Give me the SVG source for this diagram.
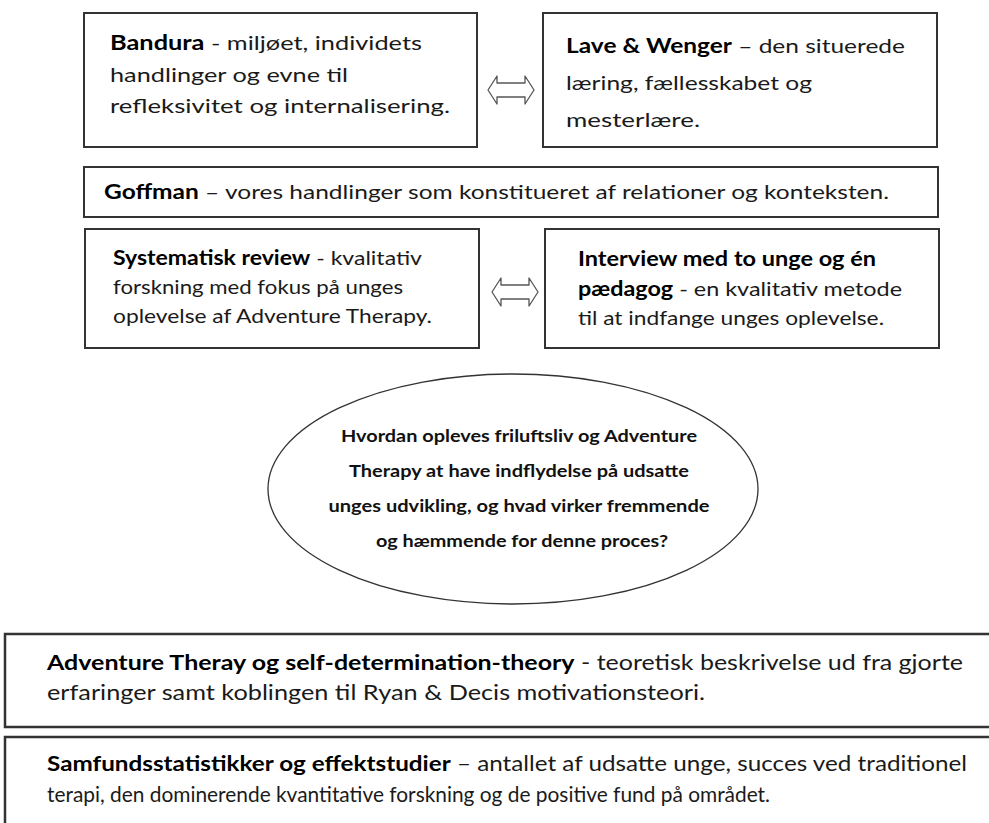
<svg xmlns="http://www.w3.org/2000/svg" width="989" height="823" viewBox="0 0 989 823">
<style>
.box{fill:#fff;stroke:#333;stroke-width:2}
.bbox{fill:#fff;stroke:#333;stroke-width:2.5}
.ell{fill:#fff;stroke:#333;stroke-width:1.3}
.t{font-family:Lato,"Liberation Sans",sans-serif;font-size:20px;fill:#1a1a1a}
.bt{font-family:Lato,"Liberation Sans",sans-serif;font-size:21px;fill:#1a1a1a}
.et{font-family:Lato,"Liberation Sans",sans-serif;font-size:17px;font-weight:bold;fill:#111}
.b{font-weight:bold;fill:#000}
.arr{fill:#fff;stroke:#555;stroke-width:1.3;stroke-linejoin:round}
</style>
<rect width="989" height="823" fill="#fff"/>

<g id="bandura">
<rect class="box" x="84" y="13" width="393" height="134"/>
<text class="t" x="110" y="50" textLength="312" lengthAdjust="spacingAndGlyphs"><tspan class="b">Bandura</tspan> - miljøet, individets</text>
<text class="t" x="110" y="82" textLength="238" lengthAdjust="spacingAndGlyphs">handlinger og evne til</text>
<text class="t" x="110" y="113" textLength="340" lengthAdjust="spacingAndGlyphs">refleksivitet og internalisering.</text>
</g>

<g id="lave-wenger">
<rect class="box" x="543" y="13" width="394" height="134"/>
<text class="t" x="566" y="53" textLength="339" lengthAdjust="spacingAndGlyphs"><tspan class="b">Lave &amp; Wenger</tspan> – den situerede</text>
<text class="t" x="566" y="90" textLength="246" lengthAdjust="spacingAndGlyphs">læring, fællesskabet og</text>
<text class="t" x="566" y="127" textLength="134" lengthAdjust="spacingAndGlyphs">mesterlære.</text>
</g>

<g id="goffman">
<rect class="box" x="84" y="167" width="854" height="50"/>
<text class="t" x="104" y="199" textLength="785" lengthAdjust="spacingAndGlyphs"><tspan class="b">Goffman</tspan> – vores handlinger som konstitueret af relationer og konteksten.</text>
</g>

<g id="systematisk-review">
<rect class="box" x="85" y="229" width="394" height="119"/>
<text class="t" x="113" y="265" textLength="309" lengthAdjust="spacingAndGlyphs"><tspan class="b">Systematisk review</tspan> - kvalitativ</text>
<text class="t" x="113" y="294" textLength="290" lengthAdjust="spacingAndGlyphs">forskning med fokus på unges</text>
<text class="t" x="113" y="323" textLength="319" lengthAdjust="spacingAndGlyphs">oplevelse af Adventure Therapy.</text>
</g>

<g id="interview">
<rect class="box" x="545" y="229" width="394" height="119"/>
<text class="t" x="578" y="266" textLength="298" lengthAdjust="spacingAndGlyphs"><tspan class="b">Interview med to unge og én</tspan></text>
<text class="t" x="578" y="296" textLength="324" lengthAdjust="spacingAndGlyphs"><tspan class="b">pædagog</tspan> - en kvalitativ metode</text>
<text class="t" x="578" y="325" textLength="306" lengthAdjust="spacingAndGlyphs">til at indfange unges oplevelse.</text>
</g>

<g id="research-question">
<ellipse class="ell" cx="513" cy="489" rx="245" ry="115"/>
<text class="et" x="519" y="442" text-anchor="middle" textLength="356" lengthAdjust="spacingAndGlyphs">Hvordan opleves friluftsliv og Adventure</text>
<text class="et" x="519" y="477" text-anchor="middle" textLength="340" lengthAdjust="spacingAndGlyphs">Therapy at have indflydelse på udsatte</text>
<text class="et" x="519" y="512" text-anchor="middle" textLength="381" lengthAdjust="spacingAndGlyphs">unges udvikling, og hvad virker fremmende</text>
<text class="et" x="522" y="547" text-anchor="middle" textLength="292" lengthAdjust="spacingAndGlyphs">og hæmmende for denne proces?</text>
</g>

<g id="adventure-sdt">
<rect class="bbox" x="5" y="634" width="1000" height="93"/>
<text class="bt" x="47" y="670" textLength="916" lengthAdjust="spacingAndGlyphs"><tspan class="b">Adventure Theray og self-determination-theory</tspan> - teoretisk beskrivelse ud fra gjorte</text>
<text class="bt" x="47" y="700" textLength="658" lengthAdjust="spacingAndGlyphs">erfaringer samt koblingen til Ryan &amp; Decis motivationsteori.</text>
</g>

<g id="samfundsstatistikker">
<rect class="bbox" x="5" y="737" width="1000" height="100"/>
<text class="bt" x="47" y="771" textLength="920" lengthAdjust="spacingAndGlyphs"><tspan class="b">Samfundsstatistikker og effektstudier</tspan> – antallet af udsatte unge, succes ved traditionel</text>
<text class="bt" x="47" y="802" textLength="723" lengthAdjust="spacingAndGlyphs">terapi, den dominerende kvantitative forskning og de positive fund på området.</text>
</g>

<g id="connectors">
<path class="arr" d="M488,90 L497,76 L497,83 L525,83 L525,76 L534,90 L525,104 L525,97 L497,97 L497,104 Z"/>
<path class="arr" d="M492,292 L501,278 L501,285 L529,285 L529,278 L538,292 L529,306 L529,299 L501,299 L501,306 Z"/>
</g>
</svg>
